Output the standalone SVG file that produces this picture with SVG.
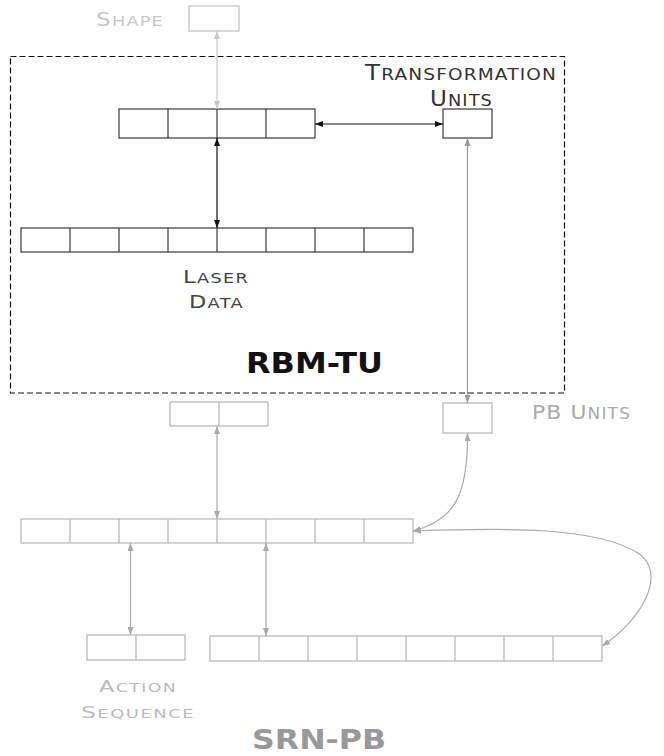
<svg xmlns="http://www.w3.org/2000/svg" width="664" height="756" viewBox="0 0 664 756">
<style>
.dk{fill:#fff;stroke:#3a3a3a;stroke-width:1.2}
.lt{fill:#fff;stroke:#b4b4b4;stroke-width:1.2}
.cl{stroke-width:1.2;fill:none}
.t{font-family:"DejaVu Sans","Liberation Sans",sans-serif;letter-spacing:1px}
.big{font-family:"DejaVu Sans","Liberation Sans",sans-serif;font-weight:bold}
</style>
<defs>
<marker id="hb" viewBox="0 0 8 6" refX="8" refY="3" markerWidth="8" markerHeight="6" markerUnits="userSpaceOnUse" orient="auto-start-reverse"><path d="M0,0 L8,3 L0,6 z" fill="#111"/></marker>
<marker id="hg" viewBox="0 0 8 6" refX="8" refY="3" markerWidth="8" markerHeight="6" markerUnits="userSpaceOnUse" orient="auto-start-reverse"><path d="M0,0 L8,3 L0,6 z" fill="#999"/></marker>
<marker id="hm" viewBox="0 0 8 6" refX="8" refY="3" markerWidth="8" markerHeight="6" markerUnits="userSpaceOnUse" orient="auto-start-reverse"><path d="M0,0 L8,3 L0,6 z" fill="#aaa"/></marker>
<marker id="hl" viewBox="0 0 8 6" refX="8" refY="3" markerWidth="8" markerHeight="6" markerUnits="userSpaceOnUse" orient="auto-start-reverse"><path d="M0,0 L8,3 L0,6 z" fill="#c8c8c8"/></marker>
</defs>

<rect id="rbm-tu-frame" x="10.5" y="56.5" width="554" height="336.5" fill="none" stroke="#111" stroke-width="1.2" stroke-dasharray="6,3"/>

<g id="shape">
<rect class="lt" x="189" y="6" width="50" height="25" style="stroke:#c0c0c0"/>
<text class="t" x="96" y="26" fill="#c8c8c8" textLength="68" lengthAdjust="spacingAndGlyphs"><tspan font-size="19">S</tspan><tspan font-size="14.5">HAPE</tspan></text>
</g>

<g id="hidden-top">
<rect class="dk" x="119" y="109" width="196" height="29"/>
<path d="M168 109V138M217 109V138M266 109V138" stroke="#3a3a3a" stroke-width="1.2"/>
</g>

<g id="transformation-units">
<rect class="dk" x="443" y="109" width="49" height="29"/>
<text class="t" x="365" y="80" fill="#333" textLength="192" lengthAdjust="spacingAndGlyphs"><tspan font-size="21.5">T</tspan><tspan font-size="16.2">RANSFORMATION</tspan></text>
<text class="t" x="430" y="106" fill="#333" textLength="63" lengthAdjust="spacingAndGlyphs"><tspan font-size="21">U</tspan><tspan font-size="16.2">NITS</tspan></text>
</g>

<g id="laser-data">
<rect class="dk" x="21" y="228" width="392" height="24"/>
<path d="M70 228V252M119 228V252M168 228V252M217 228V252M266 228V252M315 228V252M364 228V252" stroke="#3a3a3a" stroke-width="1.2"/>
<text class="t" x="183" y="283" fill="#444" textLength="66" lengthAdjust="spacingAndGlyphs"><tspan font-size="17.5">L</tspan><tspan font-size="13.5">ASER</tspan></text>
<text class="t" x="189" y="308" fill="#444" textLength="55" lengthAdjust="spacingAndGlyphs"><tspan font-size="17">D</tspan><tspan font-size="13.5">ATA</tspan></text>
</g>

<text id="rbm-tu-label" class="big" x="246" y="373" font-size="27.5" fill="#111" textLength="137" lengthAdjust="spacingAndGlyphs">RBM-TU</text>

<g id="context">
<rect class="lt" x="170" y="402" width="98" height="24"/>
<path d="M219 402V426" stroke="#b4b4b4" stroke-width="1.2"/>
</g>

<g id="pb-units">
<rect class="lt" x="443" y="403" width="49" height="30"/>
<text class="t" x="532" y="419" fill="#aaa" textLength="99" lengthAdjust="spacingAndGlyphs"><tspan font-size="19.5">PB U</tspan><tspan font-size="15.2">NITS</tspan></text>
</g>

<g id="srn-hidden">
<rect class="lt" x="21" y="519" width="392" height="24"/>
<path d="M70 519V543M119 519V543M168 519V543M217 519V543M266 519V543M315 519V543M364 519V543" stroke="#b4b4b4" stroke-width="1.2"/>
</g>

<g id="action-sequence">
<rect class="lt" x="87" y="635" width="98" height="25"/>
<path d="M136 635V660" stroke="#b4b4b4" stroke-width="1.2"/>
<text class="t" x="99" y="692" fill="#bbb" textLength="78" lengthAdjust="spacingAndGlyphs"><tspan font-size="15.8">A</tspan><tspan font-size="12.2">CTION</tspan></text>
<text class="t" x="81" y="718" fill="#bbb" textLength="114" lengthAdjust="spacingAndGlyphs"><tspan font-size="16.2">S</tspan><tspan font-size="12.4">EQUENCE</tspan></text>
</g>

<g id="srn-output">
<rect class="lt" x="210" y="636" width="392" height="25"/>
<path d="M259 636V661M308 636V661M357 636V661M406 636V661M455 636V661M504 636V661M553 636V661" stroke="#b4b4b4" stroke-width="1.2"/>
</g>

<text id="srn-pb-label" class="big" x="252" y="749" font-size="26" fill="#999" textLength="134" lengthAdjust="spacingAndGlyphs">SRN-PB</text>

<g id="connectors">
<line class="cl" x1="217" y1="31" x2="217" y2="109" stroke="#c8c8c8" marker-start="url(#hl)" marker-end="url(#hl)"/>
<line class="cl" x1="315" y1="124" x2="443" y2="124" stroke="#111" marker-start="url(#hb)" marker-end="url(#hb)"/>
<line class="cl" x1="217" y1="138" x2="217" y2="228" stroke="#111" marker-start="url(#hb)" marker-end="url(#hb)"/>
<line class="cl" x1="467.5" y1="138" x2="467.5" y2="403" stroke="#999" marker-start="url(#hg)" marker-end="url(#hg)"/>
<line class="cl" x1="217" y1="426" x2="217" y2="519" stroke="#aaa" marker-start="url(#hm)" marker-end="url(#hm)"/>
<path class="cl" d="M467.5 433 C468 495 455 520 413 531" stroke="#aaa" marker-start="url(#hm)" marker-end="url(#hm)"/>
<path class="cl" d="M413 531 C500 528 595 526 638 553 C668 573 642 620 602 646" stroke="#aaa" marker-start="url(#hm)" marker-end="url(#hm)"/>
<line class="cl" x1="130.5" y1="543" x2="130.5" y2="635" stroke="#aaa" marker-start="url(#hm)" marker-end="url(#hm)"/>
<line class="cl" x1="266" y1="543" x2="266" y2="636" stroke="#aaa" marker-start="url(#hm)" marker-end="url(#hm)"/>
</g>
</svg>
